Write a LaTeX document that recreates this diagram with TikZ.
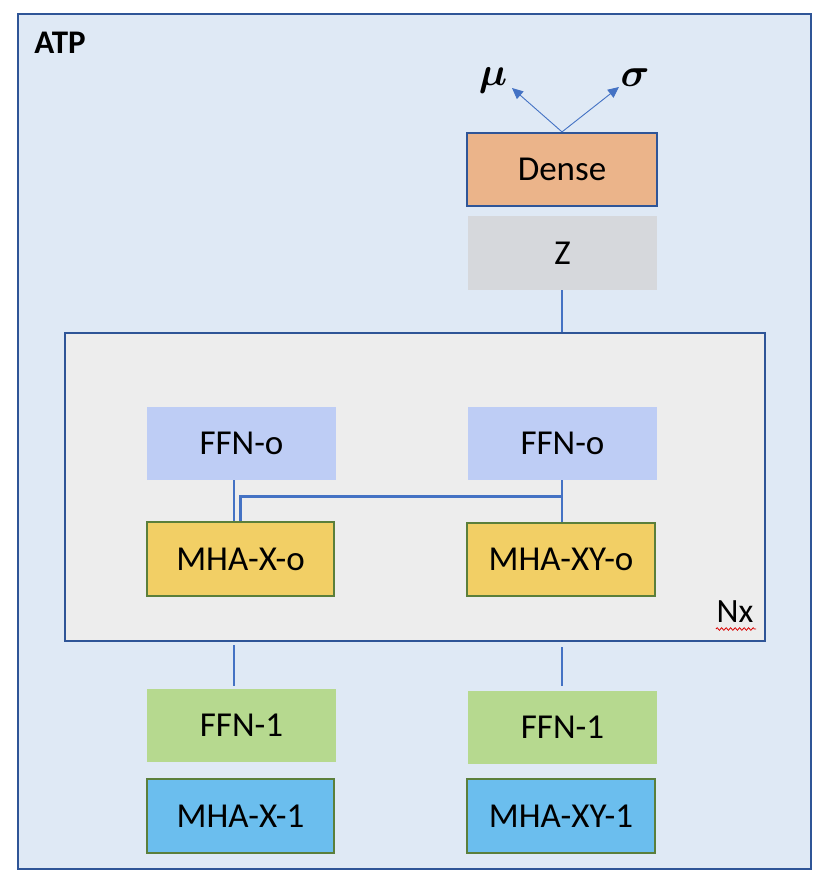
\RequirePackage{fix-cm}
\documentclass[tikz,border=0pt]{standalone}
\usepackage{fontspec}
\setmainfont{Carlito}
\usepackage{bm}
\usetikzlibrary{arrows.meta,calc,decorations.pathmorphing}
\definecolor{frameblue}{HTML}{2F5597}
\definecolor{outerfill}{HTML}{DFE9F5}
\definecolor{innerfill}{HTML}{EDEDED}
\definecolor{densefill}{HTML}{EBB48A}
\definecolor{zfill}{HTML}{D6D8DC}
\definecolor{ffnofill}{HTML}{BECDF5}
\definecolor{mhaofill}{HTML}{F2CF65}
\definecolor{ffnonefill}{HTML}{B6D98F}
\definecolor{mhaonefill}{HTML}{6BBEEE}
\definecolor{boxgreen}{HTML}{5B7F3B}
\definecolor{connblue}{HTML}{4472C4}
\tikzset{
  blk/.style={rectangle, inner sep=0pt, font=\fontsize{35}{42}\selectfont, text=black},
  conn/.style={draw=connblue, line width=2.6pt},
  arr/.style={draw=connblue, line width=0.9pt, -{Triangle[length=11pt,width=10pt]}},
}
\begin{document}
\begin{tikzpicture}[x=1pt,y=-1pt]
\useasboundingbox (0,0) rectangle (828,886);
% outer frame
\node[rectangle, draw=frameblue, line width=2pt, fill=outerfill, minimum width=793pt, minimum height=855pt] (outer) at (414.5,441.5) {};
\node[font=\fontsize{33}{38}\selectfont\bfseries] (atp) at (60,43) {ATP};
% inner repeated block
\node[rectangle, draw=frameblue, line width=2pt, fill=innerfill, minimum width=700pt, minimum height=308pt] (inner) at (415,487) {};
\node[font=\fontsize{34}{38}\selectfont] (nx) at (735,612) {Nx};
\draw[red!85!black, line width=0.8pt, decorate, decoration={zigzag, segment length=4.5pt, amplitude=1.3pt}] (716,629) -- (756,629);
% top blocks
\node[blk, draw=frameblue, line width=2.2pt, fill=densefill, minimum width=190pt, minimum height=73pt] (dense) at (562,169.5) {Dense};
\node[blk, fill=zfill, minimum width=189pt, minimum height=74pt] (z) at (562.5,253) {Z};
% inner blocks
\node[blk, fill=ffnofill, minimum width=189pt, minimum height=73pt] (ffnoL) at (241.5,443.5) {FFN-o};
\node[blk, draw=boxgreen, line width=2.2pt, fill=mhaofill, minimum width=187pt, minimum height=74pt] (mhaxo) at (240.5,559) {MHA-X-o};
\node[blk, fill=ffnofill, minimum width=189pt, minimum height=73pt] (ffnoR) at (562.5,443.5) {FFN-o};
\node[blk, draw=boxgreen, line width=2.2pt, fill=mhaofill, minimum width=188pt, minimum height=73pt] (mhaxyo) at (561,559.5) {MHA-XY-o};
% bottom blocks
\node[blk, fill=ffnonefill, minimum width=189pt, minimum height=73pt] (ffn1L) at (241.5,725.5) {FFN-1};
\node[blk, fill=ffnonefill, minimum width=189pt, minimum height=73pt] (ffn1R) at (562.5,727.5) {FFN-1};
\node[blk, draw=boxgreen, line width=2.2pt, fill=mhaonefill, minimum width=187pt, minimum height=74pt] (mhax1) at (240.5,816) {MHA-X-1};
\node[blk, draw=boxgreen, line width=2.2pt, fill=mhaonefill, minimum width=188pt, minimum height=74pt] (mhaxy1) at (561,816) {MHA-XY-1};
% outputs
\node[font=\fontsize{40}{44}\selectfont] (mu) at (493,80) {$\bm{\mu}$};
\node[font=\fontsize{40}{44}\selectfont] (sigma) at (635,78) {$\bm{\sigma}$};
\coordinate (mutip) at (512,88);
\coordinate (sigtip) at (619,87);
\draw[arr] (dense.north) -- (mutip);
\draw[arr] (dense.north) -- (sigtip);
% connectors
\coordinate (xl) at (234,0);
\coordinate (xr) at (562,0);
\draw[conn] (z.south -| xr) -- (inner.north -| xr);
\draw[conn] (ffnoL.south -| xl) -- (mhaxo.north -| xl);
\draw[conn] (ffnoR.south -| xr) -- (mhaxyo.north -| xr);
\coordinate (junc) at ($(ffnoR.south -| xr)+(0,16)$);
\draw[conn] ($(mhaxo.north)+(0,0.5)$) |- (junc);
\draw[conn, shorten <=3pt, shorten >=3pt] (inner.south -| xl) -- (ffn1L.north -| xl);
\draw[conn, shorten <=5pt, shorten >=5pt] (inner.south -| xr) -- (ffn1R.north -| xr);
\end{tikzpicture}
\end{document}
